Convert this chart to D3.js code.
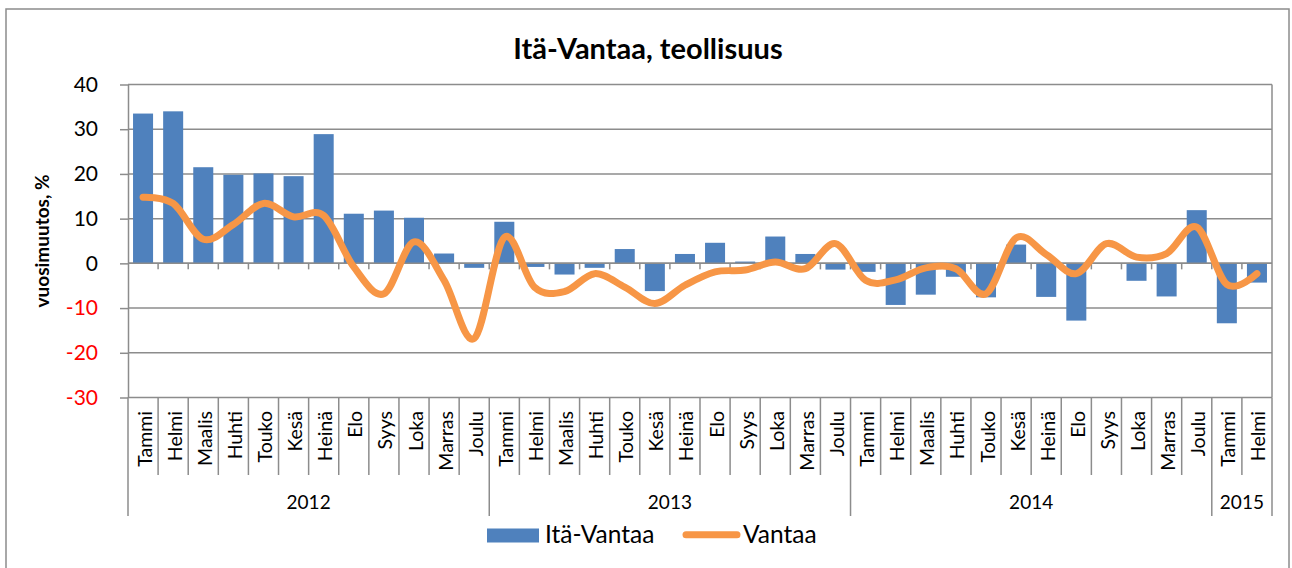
<!DOCTYPE html>
<html>
<head>
<meta charset="utf-8">
<script src="https://cdn.jsdelivr.net/npm/d3@7"></script>
<style>
  html, body { margin: 0; padding: 0; background: #fff; }
  svg { display: block; font-family: Lato, "Open Sans", sans-serif; }
</style>
</head>
<body>
<div id="chart"></div>
<script>
// Itä-Vantaa, teollisuus: yearly change %, bars (Itä-Vantaa) + smoothed line (Vantaa)

const monthNames = ["Tammi", "Helmi", "Maalis", "Huhti", "Touko", "Kesä",
  "Heinä", "Elo", "Syys", "Loka", "Marras", "Joulu"];
const years = ["2012", "2013", "2014", "2015"];
const yearCounts = [12, 12, 12, 2];
const itaVantaa = [33.5, 34.0, 21.5, 19.8, 20.1, 19.5, 28.9, 11.1, 11.8, 10.2, 2.2, -1.0,
  9.3, -0.8, -2.5, -1.0, 3.2, -6.2, 2.1, 4.6, 0.4, 6.0, 2.1, -1.4,
  -1.9, -9.3, -7.0, -3.0, -7.6, 4.2, -7.5, -12.8, 0.0, -3.9, -7.4, 11.9,
  -13.4, -4.3];
const vantaa = [14.8, 13.4, 5.4, 8.7, 13.4, 10.4, 10.7, -0.8, -6.8, 4.8, -3.8, -16.8,
  5.8, -5.3, -6.3, -2.3, -5.3, -9.0, -4.9, -1.9, -1.5, 0.3, -1.2, 4.4,
  -3.8, -3.7, -1.0, -1.2, -6.8, 5.7, 2.0, -2.3, 4.4, 1.4, 2.2, 8.1,
  -4.7, -2.3];
const yTicks = [-30, -20, -10, 0, 10, 20, 30, 40];

// category labels built from years/months
const cats = [];
years.forEach((yr, k) => {
  for (let m = 0; m < yearCounts[k]; m++) cats.push({ yr, label: monthNames[m] });
});

const W = 1292, H = 568;
const plot = { l: 128, r: 1272, t: 84.5, b: 397.5 };
const grid = "#8c8c8c";

const svg = d3.select("#chart").append("svg").attr("width", W).attr("height", H);

// outer chart frame
svg.append("rect").attr("x", 6).attr("y", 9).attr("width", 1283).attr("height", 570)
  .attr("fill", "#fff").attr("stroke", grid).attr("stroke-width", 1.5);

const x = d3.scaleBand().domain(d3.range(cats.length)).range([plot.l, plot.r]);
const y = d3.scaleLinear().domain([-30, 40]).range([plot.b, plot.t]);
const bw = x.bandwidth() * 0.665;
const cx = (i) => x(i) + x.bandwidth() / 2;

// gridlines
svg.append("g").selectAll("line").data(yTicks).enter().append("line")
  .attr("x1", plot.l).attr("x2", plot.r)
  .attr("y1", (d) => y(d)).attr("y2", (d) => y(d))
  .attr("stroke", grid).attr("stroke-width", 1.5);

// right border of plot
svg.append("line").attr("x1", plot.r).attr("x2", plot.r)
  .attr("y1", plot.t).attr("y2", plot.b).attr("stroke", grid).attr("stroke-width", 1.5);

// bars
svg.append("g").selectAll("rect").data(itaVantaa).enter().append("rect")
  .attr("x", (d, i) => cx(i) - bw / 2).attr("width", bw)
  .attr("y", (d) => Math.min(y(d), y(0)))
  .attr("height", (d) => Math.abs(y(d) - y(0)))
  .attr("fill", "#4f81bd");

// zero axis with small ticks below
svg.append("line").attr("x1", plot.l).attr("x2", plot.r)
  .attr("y1", y(0)).attr("y2", y(0)).attr("stroke", grid).attr("stroke-width", 1.5);
svg.append("g").selectAll("line").data(d3.range(1, cats.length)).enter().append("line")
  .attr("x1", (i) => x(i)).attr("x2", (i) => x(i))
  .attr("y1", y(0)).attr("y2", y(0) + 6).attr("stroke", grid).attr("stroke-width", 1.5);

// smoothed line
const line = d3.line().x((d, i) => cx(i)).y((d) => y(d)).curve(d3.curveCardinal.tension(0));
svg.append("path").datum(vantaa).attr("d", line)
  .attr("fill", "none").attr("stroke", "#f79646").attr("stroke-width", 7)
  .attr("stroke-linecap", "round").attr("stroke-linejoin", "round");

// y axis (plain hyphen minus like the original)
const yAxis = svg.append("g").attr("transform", `translate(${plot.l},0)`)
  .call(d3.axisLeft(y).tickValues(yTicks).tickFormat((d) => String(d))
    .tickSize(8).tickPadding(22).tickSizeOuter(0));
yAxis.select(".domain").attr("stroke", grid).attr("stroke-width", 1.5);
yAxis.selectAll(".tick line").attr("stroke", grid).attr("stroke-width", 1.5);
yAxis.selectAll(".tick text")
  .attr("fill", (d) => (d < 0 ? "#ff0000" : "#000"))
  .style("font-size", "21px").style("font-family", "Lato, sans-serif");

// category axis: month dividers and labels
const catTop = plot.b, catBot = 475, yearBot = 516;
const yearStarts = [];
let acc = 0;
yearCounts.forEach((n) => { yearStarts.push(acc); acc += n; });

svg.append("g").selectAll("line").data(d3.range(cats.length + 1)).enter().append("line")
  .attr("x1", (i) => (i < cats.length ? x(i) : plot.r))
  .attr("x2", (i) => (i < cats.length ? x(i) : plot.r))
  .attr("y1", catTop)
  .attr("y2", (i) => (yearStarts.includes(i) || i === cats.length ? yearBot : catBot))
  .attr("stroke", grid).attr("stroke-width", 1.5);

svg.append("g").selectAll("text").data(cats).enter().append("text")
  .attr("transform", (d, i) => `translate(${cx(i) + 1},411) rotate(-90)`)
  .attr("text-anchor", "end").attr("dominant-baseline", "central")
  .style("font-size", "19.5px").attr("fill", "#000").text((d) => d.label);

// year labels
svg.append("g").selectAll("text").data(years).enter().append("text")
  .attr("x", (d, k) => {
    const a = x(yearStarts[k]);
    const end = yearStarts[k] + yearCounts[k];
    const b = end < cats.length ? x(end) : plot.r;
    return (a + b) / 2;
  })
  .attr("y", 509).attr("text-anchor", "middle")
  .style("font-size", "19px").attr("fill", "#000").text((d) => d);

// y axis title
svg.append("text").attr("transform", "translate(49,241) rotate(-90)")
  .attr("text-anchor", "middle").style("font-size", "19px").style("font-weight", "bold")
  .text("vuosimuutos, %");

// title
svg.append("text").attr("x", 648).attr("y", 59).attr("text-anchor", "middle")
  .style("font-size", "29px").style("font-weight", "bold").text("Itä-Vantaa, teollisuus");

// legend
const lg = svg.append("g");
lg.append("rect").attr("x", 487).attr("y", 528.5).attr("width", 52).attr("height", 14)
  .attr("fill", "#4f81bd");
lg.append("text").attr("x", 545).attr("y", 543).style("font-size", "24.5px").text("Itä-Vantaa");
lg.append("line").attr("x1", 686).attr("x2", 737).attr("y1", 534.7).attr("y2", 534.7)
  .attr("stroke", "#f79646").attr("stroke-width", 7).attr("stroke-linecap", "round");
lg.append("text").attr("x", 743).attr("y", 543).style("font-size", "24.5px").text("Vantaa");
</script>
</body>
</html>
